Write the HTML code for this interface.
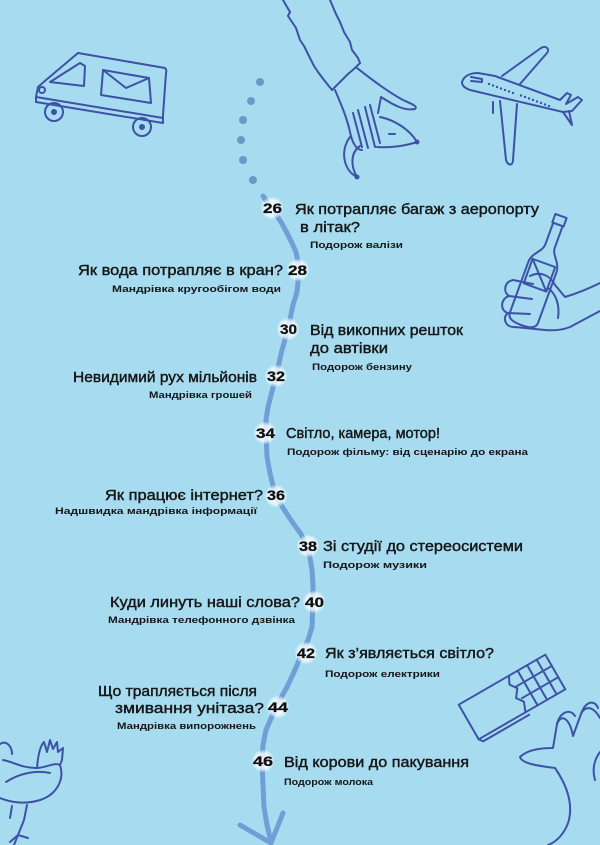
<!DOCTYPE html>
<html><head><meta charset="utf-8"><style>
html,body{margin:0;padding:0;background:#a7dcf0;}
svg{display:block;}
.t{font-family:"Liberation Sans",sans-serif;font-size:14.5px;fill:#161616;stroke:#161616;stroke-width:0.4;}
.s{font-family:"Liberation Sans",sans-serif;font-size:9.5px;font-weight:bold;fill:#161616;}
.n{font-family:"Liberation Sans",sans-serif;font-size:14px;font-weight:bold;fill:#111;stroke:#111;stroke-width:0.3;}
.d{fill:none;stroke:#3d52a6;stroke-width:2;stroke-linecap:round;stroke-linejoin:round;}
</style></head><body>
<svg width="600" height="845" viewBox="0 0 600 845" xmlns="http://www.w3.org/2000/svg">
<defs>
<radialGradient id="g" cx="50%" cy="50%" r="50%">
<stop offset="0%" stop-color="#ffffff" stop-opacity="0.9"/>
<stop offset="70%" stop-color="#ffffff" stop-opacity="0.75"/>
<stop offset="100%" stop-color="#ffffff" stop-opacity="0.2"/>
</radialGradient>
</defs>
<rect width="600" height="845" fill="#a7dcf0"/>

<!-- van -->
<g class="d">
<path d="M78,53 L165,68 Q167,70 166,73 L163,115"/>
<path d="M78,53 L46,80 L38,87 L36,97"/>
<path d="M36,97 L163,118"/>
<path d="M36,102 L163,123"/>
<path d="M36,97 L36,102 M163,115 L163,123"/>
<path d="M50,82 L80,63 L85,66 L84,86 Z"/>
<circle cx="42" cy="90" r="3"/>
<path d="M103,70 L149,78 L151,103 L101,95 Z"/>
<path d="M103,70 L126,88 L149,78"/>
<circle cx="54" cy="112" r="9"/>
<circle cx="142" cy="127" r="9"/>
</g>
<circle cx="54" cy="112" r="3" fill="#3d52a6"/>
<circle cx="142" cy="127" r="3" fill="#3d52a6"/>

<!-- dots -->
<g fill="#6f97c6">
<circle cx="260" cy="82" r="4"/>
<circle cx="251" cy="101" r="4"/>
<circle cx="243" cy="120" r="4"/>
<circle cx="241" cy="140" r="4"/>
<circle cx="243" cy="160" r="4"/>
<circle cx="253" cy="180" r="4"/>
</g>

<!-- arm & hand -->
<g class="d">
<path d="M283,0 L290,12 L288,16 L296,28 L300,40 L304,46 L310,58 L314,66 L318,72 L324,80 L332,90"/>
<path d="M330,0 L336,14 L340,22 L344,32 L350,42 L352,50 L358,58 L360,63"/>
<path d="M332,90 L338,84 L342,80 L348,74 L355,68 L360,63"/>
<path d="M335,90 C341,104 347,118 350,132 C352,142 356,150 362,150"/>
<path d="M353,113 L362,147 M358,110 L368,148 M365,107 L375,147 M370,105 L380,143"/>
<path d="M357,68 C370,78 385,90 403,100 C412,104 418,106 415,109 C405,111 395,106 381,97 L378,113"/>
<path d="M380,117 C395,120 410,130 417,142 C405,146 390,148 377,147"/>
<path d="M350,137 C340,150 343,170 357,177 C350,165 351,152 360,146"/>
<path d="M389,134 L395,134"/>
</g>
<circle cx="417" cy="142" r="2.5" fill="#3d52a6"/>
<circle cx="357" cy="177" r="2.5" fill="#3d52a6"/>

<!-- plane -->
<g class="d">
<path d="M462,82 C464,76 470,73 478,73 L495,76 L560,100 L567,93 L571,95 L566,104 L578,97 L582,100 L572,111 L563,112 L470,90 C465,88 462,86 462,82 Z"/>
<path d="M502,76 L541,48 C546,45 550,49 547,53 L520,84"/>
<path d="M500,101 L506,160 C508,166 513,166 513,160 L517,104"/>
<path d="M563,112 L572,125 L569,111"/>
<path d="M493,102 L493,113"/>
<path d="M471,77 L482,79 L482,82 L471,81"/>
</g>
<g fill="#3d52a6">
<circle cx="489" cy="84" r="1.2"/><circle cx="493" cy="85.5" r="1.2"/><circle cx="497" cy="87" r="1.2"/>
<circle cx="501" cy="88.5" r="1.2"/><circle cx="505" cy="90" r="1.2"/><circle cx="509" cy="91.5" r="1.2"/>
<circle cx="513" cy="93" r="1.2"/><circle cx="521" cy="95.5" r="1.2"/><circle cx="525" cy="97" r="1.2"/>
<circle cx="529" cy="98.5" r="1.2"/><circle cx="533" cy="100" r="1.2"/><circle cx="537" cy="101.5" r="1.2"/>
<circle cx="541" cy="103" r="1.2"/><circle cx="545" cy="104.5" r="1.2"/><circle cx="549" cy="106" r="1.2"/>
</g>

<!-- bottle & hand -->
<g class="d" transform="translate(561,216) rotate(20)">
<path d="M-6,0 L6,0 L6,9 L-6,9 Z"/>
<path d="M-5,9 L-5,32 C-5,40 -15,44 -15,55 L-15,108 C-15,114 -10,116 0,116 C10,116 15,114 15,108 L15,55 C15,44 5,40 5,32 L5,9"/>
<path d="M-12,50 L12,50 L12,76 L-12,76 Z"/>
<path d="M-12,50 L12,76"/>
</g>
<g class="d">
<path d="M530,276 C540,271 550,275 555,285 L565,297 C578,293 590,288 600,283"/>
<path d="M513,280 C504,282 503,292 509,296 C500,299 500,311 508,313 C502,317 505,328 515,327 L545,330 C556,331 565,329 570,327 L600,311"/>
<path d="M513,280 L533,284 M509,296 L532,299 M508,313 L530,314"/>
<path d="M548,288 C556,294 560,305 558,318"/>
</g>

<!-- chocolate -->
<g class="d" transform="translate(512,697) rotate(-30)">
<path d="M-50,-20 L8,-20 L4,-12 L9,-5 L3,3 L8,10 L4,20 L-50,20 Z"/>
<path d="M8,-20 L50,-20 L50,20 L4,20"/>
<path d="M18,-20 L18,20 M29,-20 L29,20 M40,-20 L40,20 M8,-7 L50,-7 M8,6 L50,6"/>
<path d="M-50,20 L-47,24 L6,24"/>
</g>

<!-- bottom right hand -->
<g class="d">
<path d="M600,718 C592,704 584,707 581,714 L573,736 C570,720 562,712 557,724 L553,748 C540,748 527,750 520,757 C522,764 540,766 555,768 C566,784 573,802 569,820 C565,834 556,842 548,845"/>
<path d="M557,724 C560,712 570,708 575,716 M581,714 C586,700 595,700 598,708"/>
<path d="M600,752 C594,760 592,770 595,780"/>
</g>

<!-- chicken -->
<g class="d">
<path d="M0,744 C6,740 12,746 12,754"/>
<path d="M3,760 C14,762 22,768 36,768 C46,768 54,762 60,765 C65,780 56,795 40,800 C25,805 10,802 0,798"/>
<path d="M37,768 C38,755 40,746 44,742 L47,752 L50,740 L53,749 L57,742 L58,752 L63,748 L62,760 L60,765"/>
<path d="M6,782 C20,773 36,770 50,773"/>
<path d="M27,805 L24,820 L18,835 M18,835 L10,842 M18,835 L28,838 M18,835 L14,845"/>
<path d="M12,806 L10,818"/>
</g>

<!-- journey line -->
<polyline fill="none" stroke="#6e9fd6" stroke-width="5" stroke-linecap="round" stroke-linejoin="round"
points="263,196 273,210 281,222 287,233 292,243 296,252 298,262 298,270 298,282 297,292 293,305 288,329 282,350 276,376 268,407 266,420 266,433 267,457 270,473 273,486 278,500 285,511 293,523 301,534 307,547 310,558 312,570 313,585 313,602 312,627 308,640 302,653 295,670 287,687 276,707 266,730 263,745 262,762 263,785 264,807 267,825 271,842"/>
<path d="M240,825 L271,843 L283,813" fill="none" stroke="#6e9fd6" stroke-width="5" stroke-linecap="round" stroke-linejoin="round"/>

<!-- circles -->
<g fill="url(#g)">
<circle cx="272" cy="208" r="11"/>
<circle cx="298" cy="270" r="11"/>
<circle cx="288" cy="329" r="11"/>
<circle cx="276" cy="376" r="11"/>
<circle cx="265" cy="433" r="11"/>
<circle cx="276" cy="496" r="11"/>
<circle cx="308" cy="546" r="11"/>
<circle cx="314" cy="602" r="11"/>
<circle cx="306" cy="653" r="11"/>
<circle cx="278" cy="707" r="11"/>
<circle cx="263" cy="761" r="11"/>
</g>

<!-- numbers -->
<text class="n" x="263" y="213" textLength="19" lengthAdjust="spacingAndGlyphs">26</text>
<text class="n" x="288" y="275" textLength="19" lengthAdjust="spacingAndGlyphs">28</text>
<text class="n" x="280" y="334" textLength="17" lengthAdjust="spacingAndGlyphs">30</text>
<text class="n" x="267" y="381" textLength="18" lengthAdjust="spacingAndGlyphs">32</text>
<text class="n" x="256" y="438" textLength="19" lengthAdjust="spacingAndGlyphs">34</text>
<text class="n" x="267" y="500" textLength="18" lengthAdjust="spacingAndGlyphs">36</text>
<text class="n" x="299" y="551" textLength="18" lengthAdjust="spacingAndGlyphs">38</text>
<text class="n" x="305" y="607" textLength="19" lengthAdjust="spacingAndGlyphs">40</text>
<text class="n" x="297" y="658" textLength="18" lengthAdjust="spacingAndGlyphs">42</text>
<text class="n" x="268" y="712" textLength="20" lengthAdjust="spacingAndGlyphs">44</text>
<text class="n" x="253" y="766" textLength="20" lengthAdjust="spacingAndGlyphs">46</text>

<!-- titles -->
<text class="t" x="295" y="214" textLength="244" lengthAdjust="spacingAndGlyphs">Як потрапляє багаж з аеропорту</text>
<text class="t" x="300" y="232" textLength="60" lengthAdjust="spacingAndGlyphs">в літак?</text>
<text class="s" x="310" y="248" textLength="93" lengthAdjust="spacingAndGlyphs">Подорож валізи</text>

<text class="t" x="78" y="275" textLength="205" lengthAdjust="spacingAndGlyphs">Як вода потрапляє в кран?</text>
<text class="s" x="112" y="292" textLength="169" lengthAdjust="spacingAndGlyphs">Мандрівка кругообігом води</text>

<text class="t" x="310" y="335" textLength="153" lengthAdjust="spacingAndGlyphs">Від викопних решток</text>
<text class="t" x="310" y="353" textLength="78" lengthAdjust="spacingAndGlyphs">до автівки</text>
<text class="s" x="312" y="370" textLength="100" lengthAdjust="spacingAndGlyphs">Подорож бензину</text>

<text class="t" x="73" y="382" textLength="184" lengthAdjust="spacingAndGlyphs">Невидимий рух мільйонів</text>
<text class="s" x="149" y="398" textLength="103" lengthAdjust="spacingAndGlyphs">Мандрівка грошей</text>

<text class="t" x="286" y="438" textLength="154" lengthAdjust="spacingAndGlyphs">Світло, камера, мотор!</text>
<text class="s" x="287" y="455" textLength="241" lengthAdjust="spacingAndGlyphs">Подорож фільму: від сценарію до екрана</text>

<text class="t" x="105" y="500" textLength="158" lengthAdjust="spacingAndGlyphs">Як працює інтернет?</text>
<text class="s" x="55" y="514" textLength="202" lengthAdjust="spacingAndGlyphs">Надшвидка мандрівка інформації</text>

<text class="t" x="323" y="551" textLength="200" lengthAdjust="spacingAndGlyphs">Зі студії до стереосистеми</text>
<text class="s" x="323" y="568" textLength="104" lengthAdjust="spacingAndGlyphs">Подорож музики</text>

<text class="t" x="110" y="607" textLength="190" lengthAdjust="spacingAndGlyphs">Куди линуть наші слова?</text>
<text class="s" x="108" y="623" textLength="187" lengthAdjust="spacingAndGlyphs">Мандрівка телефонного дзвінка</text>

<text class="t" x="325" y="658" textLength="169" lengthAdjust="spacingAndGlyphs">Як з’являється світло?</text>
<text class="s" x="325" y="677" textLength="115" lengthAdjust="spacingAndGlyphs">Подорож електрики</text>

<text class="t" x="98" y="696" textLength="159" lengthAdjust="spacingAndGlyphs">Що трапляється після</text>
<text class="t" x="115" y="713" textLength="149" lengthAdjust="spacingAndGlyphs">змивання унітаза?</text>
<text class="s" x="117" y="729" textLength="139" lengthAdjust="spacingAndGlyphs">Мандрівка випорожнень</text>

<text class="t" x="284" y="767" textLength="185" lengthAdjust="spacingAndGlyphs">Від корови до пакування</text>
<text class="s" x="284" y="785" textLength="89" lengthAdjust="spacingAndGlyphs">Подорож молока</text>
</svg>
</body></html>
